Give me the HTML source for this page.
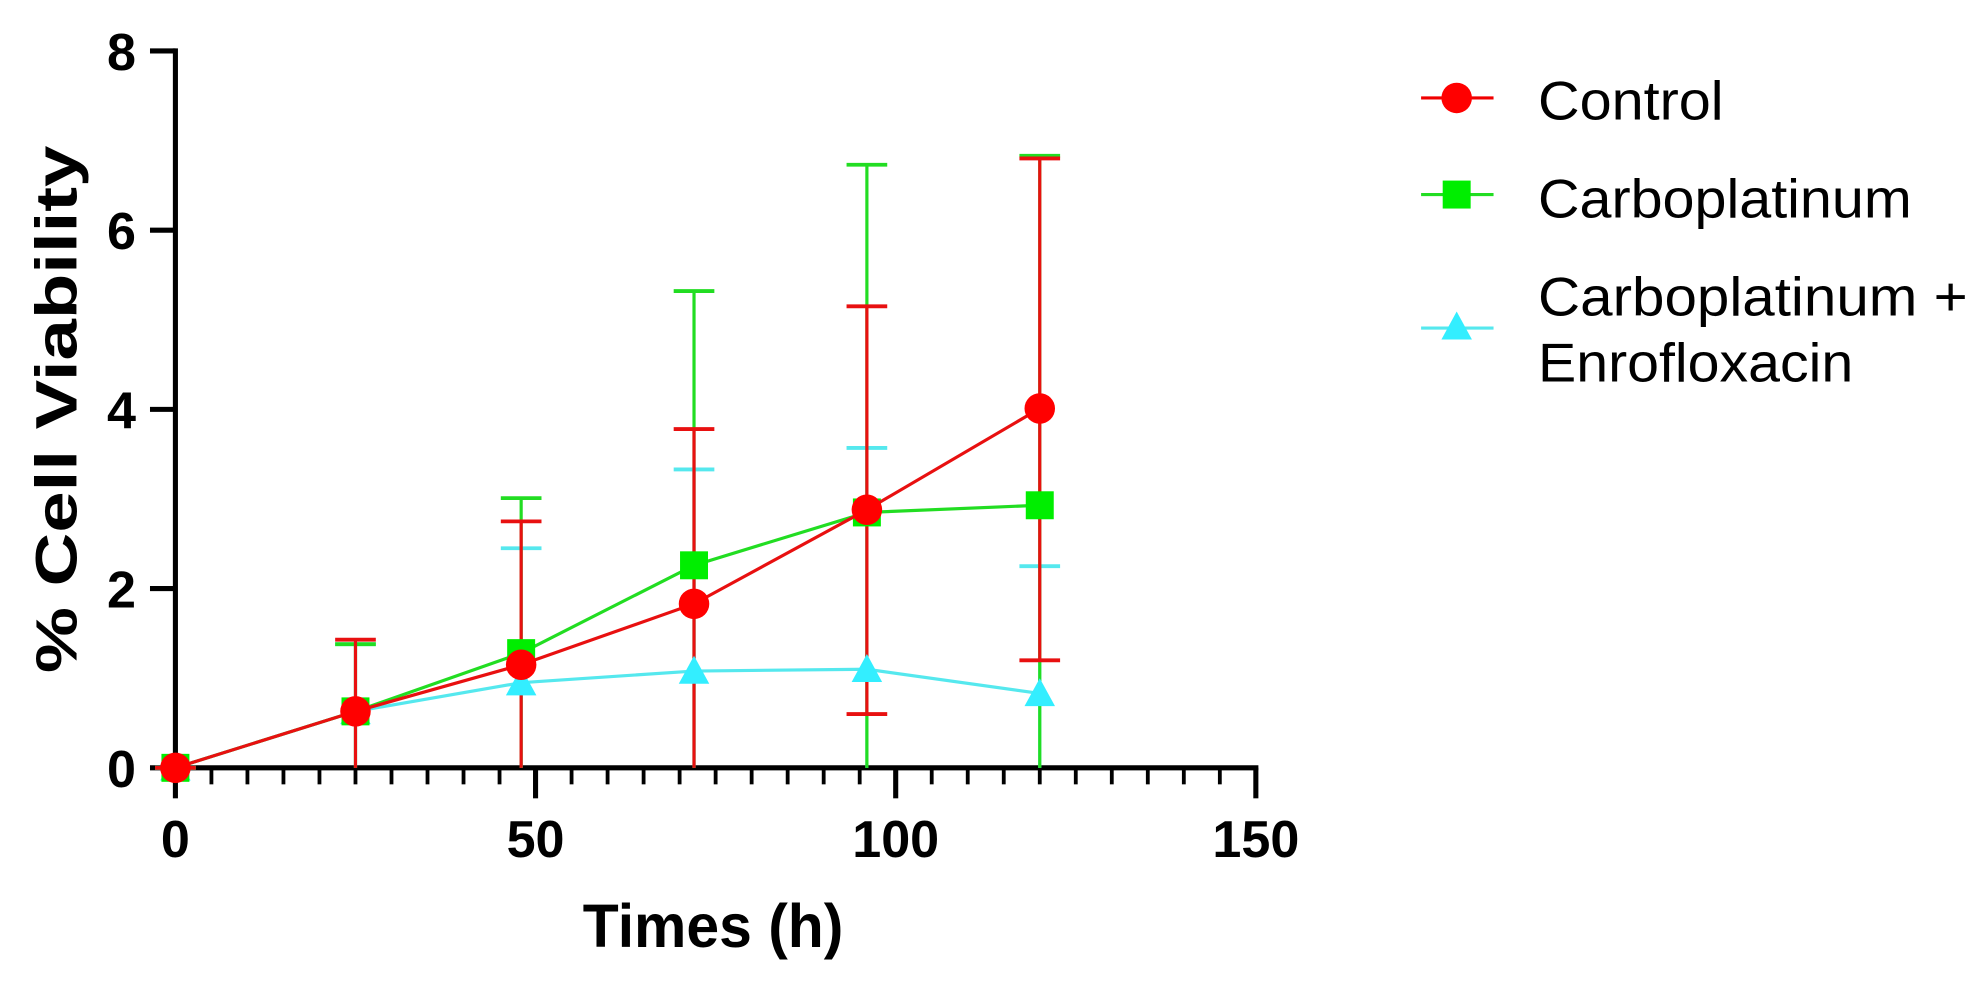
<!DOCTYPE html>
<html><head><meta charset="utf-8"><style>
html,body{margin:0;padding:0;background:#fff;}
svg{display:block;font-family:"Liberation Sans",Arial,sans-serif;}
</style></head><body>
<svg id="chart" width="1988" height="984" viewBox="0 0 1564 774" xmlns="http://www.w3.org/2000/svg">
<g id="axes"></g>
<g id="series"></g>
<text transform="translate(60,322) rotate(-90)" text-anchor="middle" font-size="46" font-weight="bold" textLength="415" lengthAdjust="spacingAndGlyphs">% Cell Viability</text>
<text x="561" y="745" text-anchor="middle" font-size="48" font-weight="bold" textLength="205" lengthAdjust="spacingAndGlyphs">Times (h)</text>
<g>
  <g>
    <line x1="1118" y1="77" x2="1175" y2="77" stroke="#f00000" stroke-width="2.5"/>
    <circle cx="1146" cy="77" r="12" fill="#ff0000"/>
    <text x="1210" y="94" font-size="43" textLength="146" lengthAdjust="spacingAndGlyphs">Control</text>
  </g>
  <g>
    <line x1="1118" y1="153" x2="1175" y2="153" stroke="#22dd22" stroke-width="2.5"/>
    <rect x="1135" y="142" width="22" height="22" fill="#00ee00"/>
    <text x="1210" y="171" font-size="43" textLength="294" lengthAdjust="spacingAndGlyphs">Carboplatinum</text>
  </g>
  <g>
    <line x1="1118" y1="258" x2="1175" y2="258" stroke="#55e8ee" stroke-width="2.5"/>
    <polygon points="1146,245 1158,267 1134,267" fill="#33eeff"/>
    <text x="1210" y="248" font-size="43" textLength="338" lengthAdjust="spacingAndGlyphs">Carboplatinum +</text>
    <text x="1210" y="300" font-size="43" textLength="248" lengthAdjust="spacingAndGlyphs">Enrofloxacin</text>
  </g>
</g>
</svg>
<script>
const times = [0, 25, 48, 72, 96, 120];
const controlMean = [0, 0.63, 1.15, 1.83, 2.88, 4.01];
const controlUpper = [0, 1.43, 2.75, 3.78, 5.15, 6.8];
const controlLower = [0, 0, 0, 0, 0.6, 1.2];
const carboMean = [0, 0.63, 1.28, 2.26, 2.85, 2.93];
const carboUpper = [0, 1.38, 3.01, 5.32, 6.73, 6.83];
const carboLower = [0, 0, 0, 0, 0, 0];
const enroMean = [0, 0.63, 0.95, 1.08, 1.1, 0.83];
const enroUpper = [0, 1.38, 2.45, 3.33, 3.57, 2.25];
const enroLower = [0, 0, 0, 0, 0, 0];
const xTicks = [0, 50, 100, 150];
const yTicks = [0, 2, 4, 6, 8];

const NS = "http://www.w3.org/2000/svg";
const X0 = 138, X1 = 988, Y0 = 604, Y1 = 40;
function xs(v){ return X0 + (v/150)*(X1-X0); }
function ys(v){ return Y0 - (v/8)*(Y0-Y1); }
function mk(tag, attrs, parent){ const e=document.createElementNS(NS,tag); for(const k in attrs) e.setAttribute(k, attrs[k]); parent.appendChild(e); return e; }

const axes = document.getElementById('axes');
let e;
e = mk('line',{x1:X0,y1:Y1-2,x2:X0,y2:Y0+2,stroke:'#000','stroke-width':4},axes);


e = mk('line',{x1:X0-2,y1:Y0,x2:X1+2,y2:Y0,stroke:'#000','stroke-width':4},axes);


yTicks.forEach(t=>{
  const y=ys(t);
  mk('line',{x1:X0-20,y1:y,x2:X0,y2:y,stroke:'#000','stroke-width':4},axes);
  e = mk('text',{x:X0-31,y:y+15,'text-anchor':'end','font-size':41,'font-weight':'bold'},axes);
  e.textContent=t;
  
  
});
for(let t=5;t<150;t+=5){
  if(t%50===0) continue;
  mk('line',{x1:xs(t),y1:Y0,x2:xs(t),y2:Y0+13,stroke:'#000','stroke-width':3},axes);
}
xTicks.forEach(t=>{
  const x=xs(t);
  mk('line',{x1:x,y1:Y0,x2:x,y2:Y0+24,stroke:'#000','stroke-width':4},axes);
  e = mk('text',{x:x,y:Y0+70,'text-anchor':'middle','font-size':41,'font-weight':'bold'},axes);
  e.textContent=t;
  
  
});

const seriesG = document.getElementById('series');
const defs = [
  {name:'enrofloxacin', mean:enroMean, up:enroUpper, lo:enroLower, color:'#55e8ee', fill:'#33eeff', marker:'tri'},
  {name:'carboplatinum', mean:carboMean, up:carboUpper, lo:carboLower, color:'#22dd22', fill:'#00ee00', marker:'sq'},
  {name:'control', mean:controlMean, up:controlUpper, lo:controlLower, color:'#e81010', fill:'#ff0000', marker:'circ'}
];
defs.forEach(s=>{
  const g = mk('g',{},seriesG);
  
  
  times.forEach((t,i)=>{
    const x=xs(t);
    mk('line',{x1:x,y1:ys(s.up[i]),x2:x,y2:ys(s.lo[i]),stroke:s.color,'stroke-width':2.5},g);
    mk('line',{x1:x-16,y1:ys(s.up[i]),x2:x+16,y2:ys(s.up[i]),stroke:s.color,'stroke-width':3},g);
    if(s.lo[i]>0) mk('line',{x1:x-16,y1:ys(s.lo[i]),x2:x+16,y2:ys(s.lo[i]),stroke:s.color,'stroke-width':3},g);
  });
});
defs.forEach(s=>{
  const g = mk('g',{},seriesG);
  
  
  const pts = times.map((t,i)=>xs(t)+','+ys(s.mean[i])).join(' ');
  const pl = mk('polyline',{points:pts,fill:'none',stroke:s.color,'stroke-width':2.5},g);
  
  
  times.forEach((t,i)=>{
    const x=xs(t), y=ys(s.mean[i]);
    let m;
    if(s.marker==='circ') m=mk('circle',{cx:x,cy:y,r:12,fill:s.fill},g);
    else if(s.marker==='sq') m=mk('rect',{x:x-11,y:y-11,width:22,height:22,fill:s.fill},g);
    else m=mk('polygon',{points:(x)+','+(y-12)+' '+(x+12)+','+(y+10)+' '+(x-12)+','+(y+10),fill:s.fill},g);
    
    
  });
});
</script>
</body></html>
